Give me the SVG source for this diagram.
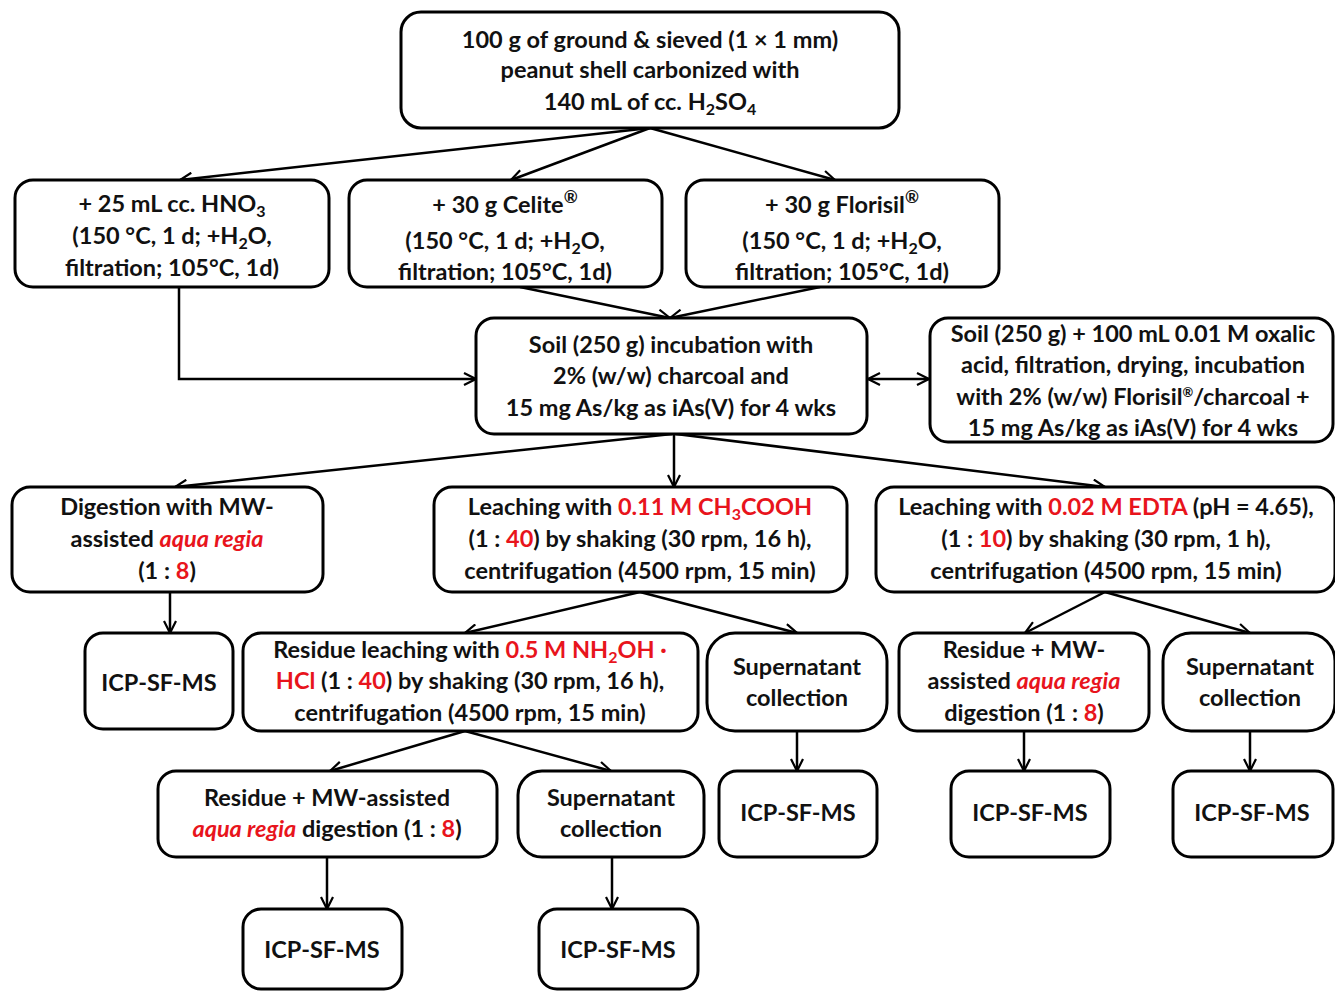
<svg xmlns="http://www.w3.org/2000/svg" width="1335" height="991" viewBox="0 0 1335 991">
<defs>
<style>
.box{fill:#fff;stroke:#000;stroke-width:3}
text{font-family:Lato,"Open Sans","Liberation Sans",sans-serif;font-weight:bold;font-size:23.5px;fill:#111;text-anchor:middle}
.r{fill:#e8141c}
.i{font-style:italic}
.c{fill:none;stroke:#000;stroke-width:2.5}
</style>
<marker id="ah" viewBox="0 0 14 14" refX="13" refY="7" markerWidth="14" markerHeight="14" markerUnits="userSpaceOnUse" orient="auto">
<path d="M1,1 L13,7 L1,13" fill="none" stroke="#000" stroke-width="2.2"/>
</marker>
<marker id="as" viewBox="0 0 14 14" refX="1" refY="7" markerWidth="14" markerHeight="14" markerUnits="userSpaceOnUse" orient="auto">
<path d="M13,1 L1,7 L13,13" fill="none" stroke="#000" stroke-width="2.2"/>
</marker>
</defs>
<rect width="1335" height="991" fill="#fff"/>
<g id="connectors">
<line class="c" x1="650" y1="128" x2="180" y2="180" marker-end="url(#ah)"/>
<line class="c" x1="650" y1="128" x2="511" y2="180" marker-end="url(#ah)"/>
<line class="c" x1="650" y1="128" x2="835" y2="180" marker-end="url(#ah)"/>
<line class="c" x1="520" y1="287" x2="670" y2="318" marker-end="url(#ah)"/>
<line class="c" x1="820" y1="287" x2="670" y2="318" marker-end="url(#ah)"/>
<polyline class="c" points="179,287 179,379 476,379" marker-end="url(#ah)"/>
<line class="c" x1="868" y1="379" x2="929" y2="379" marker-start="url(#as)" marker-end="url(#ah)"/>
<line class="c" x1="672" y1="434" x2="175" y2="487" marker-end="url(#ah)"/>
<line class="c" x1="674" y1="434" x2="674" y2="487" marker-end="url(#ah)"/>
<line class="c" x1="676" y1="434" x2="1105" y2="487" marker-end="url(#ah)"/>
<line class="c" x1="170" y1="592" x2="170" y2="633" marker-end="url(#ah)"/>
<line class="c" x1="640" y1="592" x2="465" y2="633" marker-end="url(#ah)"/>
<line class="c" x1="640" y1="592" x2="797" y2="633" marker-end="url(#ah)"/>
<line class="c" x1="1105" y1="592" x2="1025" y2="633" marker-end="url(#ah)"/>
<line class="c" x1="1105" y1="592" x2="1250" y2="633" marker-end="url(#ah)"/>
<line class="c" x1="465" y1="731" x2="330" y2="771" marker-end="url(#ah)"/>
<line class="c" x1="465" y1="731" x2="611" y2="771" marker-end="url(#ah)"/>
<line class="c" x1="797" y1="731" x2="797" y2="771" marker-end="url(#ah)"/>
<line class="c" x1="1024" y1="731" x2="1024" y2="771" marker-end="url(#ah)"/>
<line class="c" x1="1250" y1="731" x2="1250" y2="771" marker-end="url(#ah)"/>
<line class="c" x1="327" y1="857" x2="327" y2="909" marker-end="url(#ah)"/>
<line class="c" x1="612" y1="857" x2="612" y2="909" marker-end="url(#ah)"/>
</g>
<g id="n_top">
<rect class="box" x="401" y="12" width="498" height="116" rx="20"/>
<text x="650" y="48">100 g of ground &amp; sieved (1 × 1 mm)</text>
<text x="650" y="78">peanut shell carbonized with</text>
<text x="650" y="110">140 mL of cc. H<tspan font-size="16" dy="5">2</tspan><tspan dy="-5">SO</tspan><tspan font-size="16" dy="5">4</tspan></text>
</g>
<g id="n_hno3">
<rect class="box" x="15" y="180" width="314" height="107" rx="18"/>
<text x="172" y="212">+ 25 mL cc. HNO<tspan font-size="16" dy="5">3</tspan></text>
<text x="172" y="244">(150 °C, 1 d; +H<tspan font-size="16" dy="5">2</tspan><tspan dy="-5">O,</tspan></text>
<text x="172" y="276">filtration; 105°C, 1d)</text>
</g>
<g id="n_celite">
<rect class="box" x="349" y="180" width="313" height="107" rx="18"/>
<text x="505" y="213">+ 30 g Celite<tspan font-size="17" dy="-10">®</tspan></text>
<text x="505" y="249">(150 °C, 1 d; +H<tspan font-size="16" dy="5">2</tspan><tspan dy="-5">O,</tspan></text>
<text x="505" y="280">filtration; 105°C, 1d)</text>
</g>
<g id="n_florisil">
<rect class="box" x="686" y="180" width="313" height="107" rx="18"/>
<text x="842" y="213">+ 30 g Florisil<tspan font-size="17" dy="-10">®</tspan></text>
<text x="842" y="249">(150 °C, 1 d; +H<tspan font-size="16" dy="5">2</tspan><tspan dy="-5">O,</tspan></text>
<text x="842" y="280">filtration; 105°C, 1d)</text>
</g>
<g id="n_soil">
<rect class="box" x="476" y="318" width="391" height="116" rx="18"/>
<text x="671" y="353">Soil (250 g) incubation with</text>
<text x="671" y="384">2% (w/w) charcoal and</text>
<text x="671" y="416">15 mg As/kg as iAs(V) for 4 wks</text>
</g>
<g id="n_oxalic">
<rect class="box" x="930" y="318" width="403" height="124" rx="18"/>
<text x="1133" y="342">Soil (250 g) + 100 mL 0.01 M oxalic</text>
<text x="1133" y="373">acid, filtration,  drying, incubation</text>
<text x="1133" y="405">with 2% (w/w) Florisil<tspan font-size="13" dy="-8">®</tspan><tspan dy="8">/charcoal  +</tspan></text>
<text x="1133" y="436">15 mg As/kg as iAs(V) for 4 wks</text>
</g>
<g id="n_digest">
<rect class="box" x="12" y="487" width="311" height="105" rx="18"/>
<text x="167" y="515">Digestion with MW-</text>
<text x="167" y="547">assisted <tspan class="r i">aqua regia</tspan></text>
<text x="167" y="579">(1 : <tspan class="r">8</tspan>)</text>
</g>
<g id="n_acetic">
<rect class="box" x="434" y="487" width="413" height="105" rx="18"/>
<text x="640" y="515">Leaching with  <tspan class="r">0.11 M CH<tspan font-size="16" dy="5">3</tspan><tspan dy="-5">COOH</tspan></tspan></text>
<text x="640" y="547">(1 : <tspan class="r">40</tspan>) by shaking (30 rpm, 16 h),</text>
<text x="640" y="579">centrifugation (4500 rpm, 15 min)</text>
</g>
<g id="n_edta">
<rect class="box" x="876" y="487" width="459" height="105" rx="18"/>
<text x="1106" y="515">Leaching with  <tspan class="r">0.02 M EDTA</tspan> (pH = 4.65),</text>
<text x="1106" y="547">(1 : <tspan class="r">10</tspan>) by shaking (30 rpm, 1 h),</text>
<text x="1106" y="579">centrifugation (4500 rpm, 15 min)</text>
</g>
<g id="n_icp1">
<rect class="box" x="85" y="633" width="148" height="96" rx="18"/>
<text x="159" y="691">ICP-SF-MS</text>
</g>
<g id="n_nh2oh">
<rect class="box" x="243" y="633" width="455" height="98" rx="18"/>
<text x="470" y="658">Residue leaching with   <tspan class="r">0.5 M NH<tspan font-size="16" dy="5">2</tspan><tspan dy="-5">OH ·</tspan></tspan></text>
<text x="470" y="689"><tspan class="r">HCl</tspan> (1 : <tspan class="r">40</tspan>) by shaking (30 rpm, 16 h),</text>
<text x="470" y="721">centrifugation (4500 rpm, 15 min)</text>
</g>
<g id="n_sup1">
<rect class="box" x="707" y="633" width="180" height="98" rx="28"/>
<text x="797" y="675">Supernatant</text>
<text x="797" y="706">collection</text>
</g>
<g id="n_res_edta">
<rect class="box" x="899" y="633" width="250" height="98" rx="18"/>
<text x="1024" y="658">Residue + MW-</text>
<text x="1024" y="689">assisted <tspan class="r i">aqua regia</tspan></text>
<text x="1024" y="721">digestion (1 : <tspan class="r">8</tspan>)</text>
</g>
<g id="n_sup_edta">
<rect class="box" x="1163" y="633" width="172" height="98" rx="28"/>
<text x="1250" y="675">Supernatant</text>
<text x="1250" y="706">collection</text>
</g>
<g id="n_res_nh2oh">
<rect class="box" x="158" y="771" width="339" height="86" rx="18"/>
<text x="327" y="806">Residue + MW-assisted</text>
<text x="327" y="837"><tspan class="r i">aqua regia</tspan> digestion (1 : <tspan class="r">8</tspan>)</text>
</g>
<g id="n_sup2">
<rect class="box" x="518" y="771" width="186" height="86" rx="24"/>
<text x="611" y="806">Supernatant</text>
<text x="611" y="837">collection</text>
</g>
<g id="n_icp2">
<rect class="box" x="719" y="771" width="158" height="86" rx="18"/>
<text x="798" y="821">ICP-SF-MS</text>
</g>
<g id="n_icp3">
<rect class="box" x="951" y="771" width="159" height="86" rx="18"/>
<text x="1030" y="821">ICP-SF-MS</text>
</g>
<g id="n_icp4">
<rect class="box" x="1173" y="771" width="160" height="86" rx="18"/>
<text x="1252" y="821">ICP-SF-MS</text>
</g>
<g id="n_icp5">
<rect class="box" x="243" y="909" width="159" height="80" rx="18"/>
<text x="322" y="958">ICP-SF-MS</text>
</g>
<g id="n_icp6">
<rect class="box" x="539" y="909" width="159" height="80" rx="18"/>
<text x="618" y="958">ICP-SF-MS</text>
</g>
</svg>
